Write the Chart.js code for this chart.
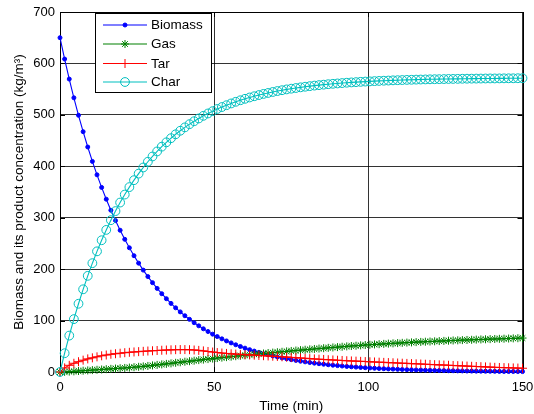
<!DOCTYPE html>
<html>
<head>
<meta charset="utf-8">
<script src="https://cdn.jsdelivr.net/npm/chart.js@4.4.1/dist/chart.umd.min.js"></script>
<style>
  html, body { margin: 0; padding: 0; background: #fff; overflow: hidden; }
  canvas { display: block; }
</style>
</head>
<body>
<canvas id="c" width="534" height="414"></canvas>
<script>
// Sampling times (min)
const timeMin = [0,1.5,3,4.5,6,7.5,9,10.5,12,13.5,15,16.5,18,19.5,21,22.5,24,25.5,27,28.5,
  30,31.5,33,34.5,36,37.5,39,40.5,42,43.5,45,46.5,48,49.5,51,52.5,54,55.5,57,58.5,
  60,61.5,63,64.5,66,67.5,69,70.5,72,73.5,75,76.5,78,79.5,81,82.5,84,85.5,87,88.5,
  90,91.5,93,94.5,96,97.5,99,100.5,102,103.5,105,106.5,108,109.5,111,112.5,114,115.5,117,118.5,
  120,121.5,123,124.5,126,127.5,129,130.5,132,133.5,135,136.5,138,139.5,141,142.5,144,145.5,147,148.5,150];

// Concentrations (kg/m3)
const biomass = [650,608.5,569.6,533.2,499.2,467.3,437.5,409.5,383.4,358.9,336.0,314.5,294.4,275.6,258.0,241.5,226.1,211.7,198.1,185.5,
  173.7,162.6,152.2,142.5,133.4,124.8,116.9,109.4,102.4,95.9,89.8,84.0,78.7,73.6,68.9,64.5,60.4,56.6,52.9,49.6,
  46.4,43.4,40.7,38.1,35.6,33.4,31.2,29.2,27.4,25.6,24.0,22.5,21.0,19.7,18.4,17.2,16.1,15.1,14.1,13.2,
  12.4,11.6,10.8,10.1,9.5,8.9,8.3,7.8,7.3,6.8,6.4,6.0,5.6,5.2,4.9,4.6,4.3,4.0,3.8,3.5,
  3.3,3.1,2.9,2.7,2.5,2.4,2.2,2.1,1.9,1.8,1.7,1.6,1.5,1.4,1.3,1.2,1.1,1.0,1.0,0.9,0.8];

const gas = [0,0.3,0.8,1.3,1.9,2.5,3.1,3.7,4.3,4.9,5.5,6.1,6.7,7.3,7.9,8.6,9.3,10.1,10.9,11.8,
  12.8,13.8,14.8,15.8,16.8,17.9,18.9,20.0,21.0,22.0,23.1,24.1,25.1,26.1,27.1,28.0,28.9,29.8,30.7,31.6,
  32.5,33.4,34.3,35.1,36.0,36.9,37.7,38.5,39.3,40.1,40.9,41.7,42.5,43.3,44.0,44.8,45.6,46.3,47.0,47.7,
  48.4,49.1,49.8,50.5,51.1,51.8,52.4,53.0,53.6,54.1,54.7,55.2,55.7,56.2,56.7,57.2,57.6,58.1,58.5,58.9,
  59.3,59.7,60.1,60.5,60.9,61.3,61.6,62.0,62.3,62.6,63.0,63.3,63.6,63.9,64.2,64.5,64.8,65.1,65.4,65.7,66.0];

const tar = [0,8,13,17,20,23,25.5,27.5,29.5,31.5,33,34.5,35.5,36.5,37.5,38.3,39,39.6,40.2,40.8,
  41.3,41.8,42.3,42.7,43.1,43.4,43.6,43.6,43.3,42.8,42.0,41.0,39.9,38.8,37.8,36.9,36.1,35.4,34.8,34.2,
  33.7,33.2,32.7,32.2,31.7,31.2,30.7,30.2,29.6,29.0,28.4,27.8,27.2,26.6,26.0,25.4,24.9,24.4,23.9,23.4,
  22.9,22.4,21.9,21.5,21.1,20.7,20.3,19.9,19.5,19.1,18.7,18.3,17.9,17.5,17.1,16.7,16.3,15.9,15.5,15.1,
  14.7,14.3,13.9,13.5,13.1,12.7,12.3,11.9,11.5,11.1,10.7,10.3,9.9,9.5,9.1,8.8,8.5,8.2,7.9,7.6,7.3];

const charConc = [0,36.5,70.8,102.8,132.7,160.8,187.0,211.6,234.6,256.2,276.3,295.2,312.9,329.5,345.0,359.5,373.0,385.7,397.7,408.8,
  419.1,428.9,438.1,446.6,454.6,462.2,469.1,475.7,481.9,487.6,493.0,498.1,502.7,507.2,511.4,515.2,518.8,522.2,525.4,528.4,
  531.2,533.8,536.2,538.5,540.7,542.6,544.5,546.3,547.9,549.5,550.9,552.2,553.5,554.7,555.8,556.9,557.8,558.7,559.6,560.4,
  561.1,561.8,562.5,563.1,563.6,564.2,564.7,565.1,565.6,566.0,566.4,566.7,567.1,567.4,567.7,568.0,568.2,568.5,568.7,568.9,
  569.1,569.3,569.4,569.6,569.8,569.9,570.0,570.2,570.3,570.4,570.5,570.6,570.7,570.8,570.8,570.9,571.0,571.1,571.1,571.2,571.3];

const seriesNames = ['Biomass', 'Gas', 'Tar', 'Char'];
const xTickValues = [0, 50, 100, 150];
const yTickValues = [0, 100, 200, 300, 400, 500, 600, 700];

const FONT = 'Liberation Sans, Arial, sans-serif';

const styles = [
  { color: '#0000ff', pointStyle: 'circle', radius: 2, fill: '#0000ff' },
  { color: '#008000', pointStyle: 'star', radius: 4, fill: 'rgba(0,0,0,0)' },
  { color: '#ff0000', pointStyle: 'cross', radius: 4.5, fill: 'rgba(0,0,0,0)' },
  { color: '#00bfbf', pointStyle: 'circle', radius: 4.4, fill: 'rgba(0,0,0,0)' }
];

function toPoints(ys) {
  return ys.map((y, i) => ({ x: timeMin[i], y: y }));
}

const seriesValues = [biomass, gas, tar, charConc];
const datasets = seriesValues.map((vals, k) => ({
  label: seriesNames[k],
  data: toPoints(vals),
  borderColor: styles[k].color,
  backgroundColor: styles[k].color,
  borderWidth: 1.1,
  pointStyle: styles[k].pointStyle,
  pointRadius: styles[k].radius,
  pointBorderColor: styles[k].color,
  pointBackgroundColor: styles[k].fill,
  pointBorderWidth: 1,
  tension: 0,
  fill: false,
  clip: false,
  order: 4 - k
}));

// Axes box, inward tick marks
const framePlugin = {
  id: 'frame',
  beforeDatasetsDraw(chart) {
    const { ctx, chartArea: a, scales } = chart;
    ctx.save();
    ctx.strokeStyle = '#000';
    ctx.lineWidth = 1;
    ctx.beginPath();
    const tl = 5;
    xTickValues.forEach(v => {
      const px = Math.round(scales.x.getPixelForValue(v)) + 0.5;
      ctx.moveTo(px, a.bottom); ctx.lineTo(px, a.bottom - tl);
      ctx.moveTo(px, a.top); ctx.lineTo(px, a.top + tl);
    });
    yTickValues.forEach(v => {
      const py = Math.round(scales.y.getPixelForValue(v)) + 0.5;
      ctx.moveTo(a.left, py); ctx.lineTo(a.left + tl, py);
      ctx.moveTo(a.right, py); ctx.lineTo(a.right - tl, py);
    });
    ctx.stroke();
    ctx.strokeRect(Math.round(a.left) + 0.5, Math.round(a.top) + 0.5,
      Math.round(a.right - a.left), Math.round(a.bottom - a.top));
    ctx.restore();
  }
};

function drawMarker(ctx, style, x, y) {
  const r = style.radius;
  ctx.beginPath();
  if (style.pointStyle === 'circle') {
    ctx.arc(x, y, r, 0, Math.PI * 2);
    ctx.fillStyle = style.fill;
    ctx.fill();
    ctx.stroke();
  } else if (style.pointStyle === 'cross') {
    ctx.moveTo(x - r, y); ctx.lineTo(x + r, y);
    ctx.moveTo(x, y - r); ctx.lineTo(x, y + r);
    ctx.stroke();
  } else {
    const d = r * Math.SQRT1_2;
    ctx.moveTo(x - r, y); ctx.lineTo(x + r, y);
    ctx.moveTo(x, y - r); ctx.lineTo(x, y + r);
    ctx.moveTo(x - d, y - d); ctx.lineTo(x + d, y + d);
    ctx.moveTo(x - d, y + d); ctx.lineTo(x + d, y - d);
    ctx.stroke();
  }
}

// Boxed legend inside the axes, upper left
const boxLegend = {
  id: 'boxLegend',
  afterDatasetsDraw(chart) {
    const { ctx } = chart;
    const bx = 95.5, by = 13.5, bw = 116, bh = 79;
    ctx.save();
    ctx.fillStyle = '#fff';
    ctx.fillRect(bx, by, bw, bh);
    ctx.strokeStyle = '#000';
    ctx.lineWidth = 1;
    ctx.strokeRect(bx, by, bw, bh);
    const rows = [25, 44, 63.5, 82];
    ctx.font = '13.5px ' + FONT;
    ctx.textBaseline = 'middle';
    ctx.textAlign = 'left';
    seriesNames.forEach((name, k) => {
      const y = rows[k];
      ctx.strokeStyle = styles[k].color;
      ctx.lineWidth = 1.1;
      ctx.beginPath();
      ctx.moveTo(103, y); ctx.lineTo(147, y);
      ctx.stroke();
      ctx.lineWidth = 1;
      drawMarker(ctx, styles[k], 125, y);
      ctx.fillStyle = '#000';
      ctx.fillText(name, 151, y + 0.5);
    });
    ctx.restore();
  }
};

new Chart(document.getElementById('c'), {
  type: 'line',
  data: { datasets },
  plugins: [framePlugin, boxLegend],
  options: {
    responsive: false,
    animation: false,
    devicePixelRatio: 1,
    layout: { padding: { left: 0, right: 11.5, top: 12, bottom: 0 } },
    plugins: { legend: { display: false }, tooltip: { enabled: false } },
    scales: {
      x: {
        type: 'linear',
        min: 0, max: 150,
        afterBuildTicks(scale) { scale.ticks = xTickValues.map(v => ({ value: v })); },
        afterFit(scale) { scale.height = 42; scale.paddingLeft = 0; scale.paddingRight = 0; },
        grid: { color: 'rgba(0,0,0,0.8)', lineWidth: 1, drawTicks: false },
        border: { display: false },
        ticks: { color: '#000', font: { family: FONT, size: 13 }, padding: 8, maxRotation: 0 },
        title: { display: true, text: 'Time (min)', color: '#000', font: { family: FONT, size: 13.5 }, padding: { top: 0, bottom: 0 } }
      },
      y: {
        type: 'linear',
        min: 0, max: 700,
        afterBuildTicks(scale) { scale.ticks = yTickValues.map(v => ({ value: v })); },
        afterFit(scale) { scale.width = 60; scale.paddingTop = 0; scale.paddingBottom = 0; },
        grid: { color: 'rgba(0,0,0,0.8)', lineWidth: 1, drawTicks: false },
        border: { display: false },
        ticks: { color: '#000', font: { family: FONT, size: 13 }, padding: 5 },
        title: { display: true, text: 'Biomass and its product concentration (kg/m\u00B3)', color: '#000', font: { family: FONT, size: 13.5 }, padding: { top: 11, bottom: 0 } }
      }
    }
  }
});
</script>
</body>
</html>
